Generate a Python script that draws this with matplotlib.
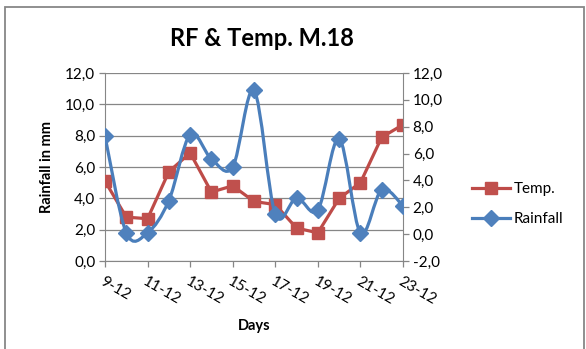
import matplotlib
matplotlib.use("Agg")
import matplotlib.pyplot as plt
from matplotlib.path import Path
from matplotlib.patches import PathPatch, Rectangle
from matplotlib.lines import Line2D
from matplotlib.ticker import FuncFormatter
import numpy as np

plt.rcParams['font.family'] = ['Lato', 'DejaVu Sans']

days = ["9-12", "10-12", "11-12", "12-12", "13-12", "14-12", "15-12", "16-12",
        "17-12", "18-12", "19-12", "20-12", "21-12", "22-12", "23-12"]
temp = [5.1, 2.8, 2.7, 5.7, 6.9, 4.4, 4.8, 3.8, 3.6, 2.1, 1.8, 4.0, 5.0, 7.9, 8.7]
rainfall = [7.3, 0.1, 0.1, 2.5, 7.4, 5.6, 5.0, 10.7, 1.5, 2.7, 1.8, 7.1, 0.1, 3.3, 2.1]

left_ticks = [0, 2, 4, 6, 8, 10, 12]
right_ticks = [-2, 0, 2, 4, 6, 8, 10, 12]

red_line = "#BE4B48"
red_mark = "#C0504D"
blue_line = "#4A7EBB"
blue_mark = "#4F81BD"
grid_c = "#868686"

W, H = 586, 349
fig = plt.figure(figsize=(W / 100, H / 100), dpi=100)
fig.patch.set_facecolor("white")

# chart border
fig.add_artist(Rectangle((5 / W, -0.02), (584 - 5) / W, 1 - 7 / H + 0.02,
                         transform=fig.transFigure, fill=False,
                         edgecolor="#878787", linewidth=1.3))

x0, x1, ytop, ybot = 105, 403, 73, 261
ax = fig.add_axes([x0 / W, 1 - ybot / H, (x1 - x0) / W, (ybot - ytop) / H])
ax2 = ax.twinx()

x = np.arange(len(days))
ax.set_xlim(0, len(days) - 1)
ax.set_ylim(0, 12)
ax2.set_ylim(-2, 12)

fmt = FuncFormatter(lambda v, p: f"{v:.1f}".replace(".", ","))
ax.set_yticks(left_ticks)
ax.yaxis.set_major_formatter(fmt)
ax2.set_yticks(right_ticks)
ax2.yaxis.set_major_formatter(fmt)
ax.grid(axis="y", color=grid_c, linewidth=0.9)
ax.set_axisbelow(True)

for a in (ax, ax2):
    for s in a.spines.values():
        s.set_visible(False)
    a.tick_params(axis="y", length=4, width=0.9, color=grid_c, labelsize=11,
                  pad=3, labelcolor="#000000")
ax.spines["left"].set_visible(True)
ax.spines["left"].set_color(grid_c)
ax.spines["bottom"].set_visible(True)
ax.spines["bottom"].set_color(grid_c)
ax2.spines["right"].set_visible(True)
ax2.spines["right"].set_color(grid_c)

ax.set_xticks(x[::2])
ax.set_xticklabels(days[::2], rotation=-30, ha="left", va="top",
                   rotation_mode="anchor", fontsize=11)
ax.tick_params(axis="x", length=4, width=0.9, color=grid_c, pad=6)

ax.set_ylabel("Rainfall in mm", fontsize=10.5, fontweight="bold", labelpad=8)
ax.set_xlabel("Days", fontsize=10.5, fontweight="bold", labelpad=8)

# Temp: straight lines, left axis
lt, = ax.plot(x, temp, color=red_line, linewidth=2.3, marker="s",
              markersize=9, markerfacecolor=red_mark, markeredgecolor=red_mark,
              label="Temp.", zorder=3)

# Rainfall: smoothed line (Catmull-Rom Bezier), right axis
pts = np.column_stack([x, rainfall]).astype(float)
ext = np.vstack([pts[0], pts, pts[-1]])
verts = [tuple(pts[0])]
codes = [Path.MOVETO]
for i in range(len(pts) - 1):
    p0, p1, p2, p3 = ext[i], ext[i + 1], ext[i + 2], ext[i + 3]
    c1 = p1 + (p2 - p0) / 6
    c2 = p2 - (p3 - p1) / 6
    verts += [tuple(c1), tuple(c2), tuple(p2)]
    codes += [Path.CURVE4] * 3
ax2.add_patch(PathPatch(Path(verts, codes), fill=False, edgecolor=blue_line,
                        linewidth=2.3, capstyle="round", joinstyle="round",
                        zorder=4))
ax2.plot(x, rainfall, linestyle="none", marker="D", markersize=8.5,
         markerfacecolor=blue_mark, markeredgecolor=blue_mark, zorder=5)

lr = Line2D([], [], color=blue_line, linewidth=2.3, marker="D", markersize=8.5,
            markerfacecolor=blue_mark, markeredgecolor=blue_mark)
fig.legend([lt, lr], ["Temp.", "Rainfall"], loc="center left",
           bbox_to_anchor=(458 / W, 1 - 204 / H), frameon=False,
           fontsize=11, handlelength=2.5, labelspacing=1.05, handletextpad=0.25)

fig.text(262 / W, 1 - 38 / H, "RF & Temp. M.18", ha="center", va="center",
         fontsize=17, fontweight="bold")

fig.savefig("out.png", dpi=100)
